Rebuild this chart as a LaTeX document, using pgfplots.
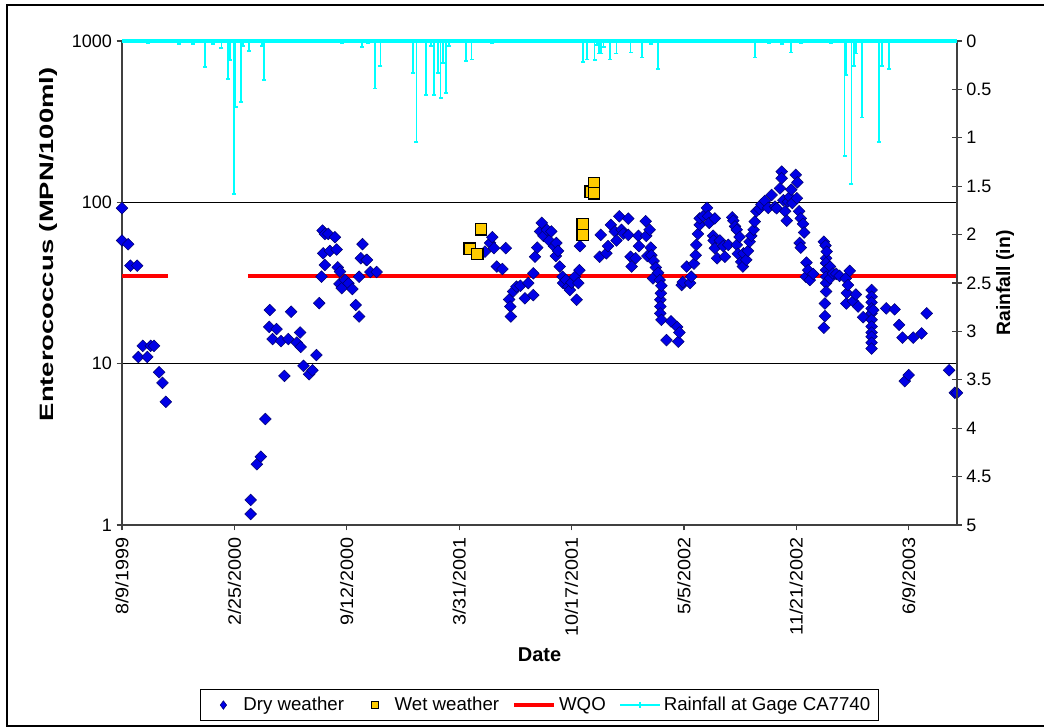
\documentclass[border=0pt]{standalone}
\usepackage{pgfplots}
\pgfplotsset{compat=1.18}
\usepackage{fontspec}
\setmainfont{Liberation Sans}
\usepackage{graphicx}

\definecolor{dryfill}{RGB}{0,0,230}
\definecolor{dryedge}{RGB}{0,0,110}
\definecolor{wetfill}{RGB}{255,204,0}
\definecolor{rain}{RGB}{0,255,255}
\definecolor{axgray}{RGB}{64,64,64}

% Excel draws rotated text wider along the baseline
\newcommand{\sx}[1]{\scalebox{1.1}[1]{#1}}

\pgfplotsset{
  common/.style={
    scale only axis, width=626.25pt, height=363pt,
    xmin=0, xmax=1486,
    axis line style={draw=axgray, line width=1.1pt, -},
    tick style={draw=axgray, line width=0.9pt},
    tick label style={font=\fontsize{13.5}{16}\selectfont},
    /pgf/number format/assume math mode=true,
    clip=false,
  },
  markleg/.style={legend image code/.code={\path[draw=none, fill=none] (0pt,-3pt) rectangle (26pt,3pt);
      \draw[##1] plot coordinates {(13pt,0pt)};}},
  lineleg/.style={legend image code/.code={\draw[##1] (0pt,0pt) -- (30pt,0pt);}},
  rainleg/.style={legend image code/.code={\draw[##1] (0pt,0pt) -- (30pt,0pt);
      \draw[##1, line width=1pt] (15pt,-2pt) -- (15pt,2pt);}},
}

% day 0 = 8/9/1999
\pgfplotstableread{
day val
0 92
0 58
11 55
15 40.5
27 40.5
29 11
37 12.9
45 11
51 12.9
57 12.9
66 8.85
72 7.6
78 5.8
229 1.43
229 1.17
240 2.38
247 2.65
255 4.54
262 16.9
263 21.5
268 14.2
275 16.4
283 13.8
289 8.4
296 14.2
301 21
311 13.5
317 15.6
318 12.7
323 9.7
333 8.6
339 9.1
346 11.3
351 23.7
355 34.6
357 66.8
358 48.3
361 63.7
361 40.9
367 63.7
370 50
379 60.8
382 51
384 39.5
387 31.2
388 37.2
391 29.4
397 33
403 31.5
410 29
416 23.1
422 19.6
422 34.6
425 45
428 55
435 43.9
436 44
442 37
453 37
646 49.5
655 56
659 60.8
662 52
667 40
677 38.6
683 52
689 25
691 22.6
692 19.6
696 28
702 30
709 30.4
717 25.4
723 31.6
732 26.6
732 36.3
735 46
739 52.4
744 66
747 74.5
750 62
756 67.6
760 58
764 66
769 53.5
772 46.5
773 56
776 50
779 40
784 34.6
785 31.6
790 33
794 30
797 28.6
800 31.8
806 34.6
809 24.9
812 31.6
814 38
815 53.5
850 46
852 62.8
862 48.3
865 53.5
870 72.5
877 66
880 58
885 81.9
889 67.6
892 64
901 79.3
901 62.8
905 46
907 40
914 45
919 62
920 53.5
932 76.4
933 62
935 46.5
939 67.6
941 52.4
942 47
945 33.8
946 43.3
950 39.5
954 36.6
957 33
958 24.9
958 22.6
958 20.5
959 27.3
960 30.4
960 18.7
969 14
977 18.3
988 16.9
990 13.7
992 15.6
996 30.7
998 32
1005 40
1011 31.6
1013 34.6
1018 41.7
1021 47
1022 54.5
1025 63.7
1028 72.5
1028 79.5
1034 82
1041 92.4
1043 82
1045 74.5
1052 62
1053 58
1055 79.5
1055 52
1059 45
1064 58
1070 53.5
1073 46
1079 54.5
1086 80.7
1088 77
1091 71
1094 67.6
1094 54.5
1096 48
1099 61
1102 42.8
1105 40
1106 48.3
1111 44
1114 50
1117 57
1120 62
1124 67.6
1126 76
1129 88
1134 91
1138 97
1144 102
1150 92.4
1156 111
1162 94
1165 92
1171 122
1174 155
1174 141
1177 103
1180 88
1183 77
1185 101
1188 108
1191 120
1193 99
1199 148
1201 106
1202 133
1205 88
1206 56
1208 79.5
1208 52.4
1212 73.5
1214 65
1217 34.6
1218 42.3
1221 38
1224 33
1230 36
1249 57
1249 16.7
1251 23.6
1251 19.7
1252 54
1253 45
1253 42
1253 38
1253 34.6
1253 31.6
1253 28
1254 49.5
1260 40
1260 33.8
1265 36.2
1271 36
1277 35
1288 33.8
1289 23.6
1290 27.4
1292 30.7
1295 37.6
1301 24.4
1306 26.8
1310 22.6
1319 19.4
1334 28.6
1334 26
1334 24
1334 22
1334 20.5
1334 18.7
1334 17
1334 15.6
1334 14.7
1334 13.5
1334 12.4
1337 21.5
1360 22
1375 21.7
1383 17.4
1389 14.5
1393 7.8
1400 8.5
1408 14.5
1423 15.4
1432 20.5
1472 9.1
1482 6.6
1486 6.6
}\dry

\pgfplotstableread{
day val
619 51.6
632 47.9
639 68
820 73.5
820 62.8
834 116.5
840 131
840 114
}\wet

\pgfplotstableread{
day rain
46 0.02
101 0.03
126 0.03
148 0.27
162 0.03
177 0.07
189 0.39
192 0.2
199 1.58
202 0.68
212 0.63
215 0.05
226 0.1
249 0.05
253 0.40
391 0.02
427 0.06
438 0.02
450 0.49
460 0.26
518 0.33
524 1.04
541 0.56
550 0.05
555 0.56
562 0.33
567 0.59
571 0.23
576 0.54
582 0.05
612 0.21
622 0.19
659 0.02
820 0.22
828 0.19
841 0.2
845 0.04
849 0.13
853 0.13
857 0.06
868 0.19
880 0.13
905 0.12
926 0.17
942 0.03
954 0.29
1126 0.17
1151 0.02
1175 0.03
1190 0.12
1209 0.02
1261 0.02
1286 1.19
1289 0.35
1298 1.48
1303 0.26
1306 0.13
1317 0.79
1347 1.04
1352 0.26
1365 0.29
}\rain

\begin{document}
\begin{tikzpicture}
\begin{axis}[common, name=main,
  axis x line*=bottom, axis y line*=left,
  ymode=log, ymin=1, ymax=1000,
  ytick={1,10,100,1000}, yticklabels={1,10,100,1000},
  yminorticks=false,
  ymajorgrids, major grid style={black, line width=0.6pt},
  xtick={0,200,...,1400},
  xticklabels={\sx{8/9/1999},\sx{2/25/2000},\sx{9/12/2000},\sx{3/31/2001},\sx{10/17/2001},\sx{5/5/2002},\sx{11/21/2002},\sx{6/9/2003}},
  xticklabel style={rotate=90, anchor=east},
  xticklabel shift=2pt,
  tick align=outside, major tick length=4pt,
  xlabel={Date},
  xlabel style={at={(axis description cs:0.5,-0.2686)}, anchor=center, font=\bfseries\fontsize{15}{18}\selectfont},
  ylabel={\scalebox{1.42}[1]{Enterococcus (MPN/100ml)}},
  ylabel style={at={(axis description cs:-0.0886,0.58)}, anchor=center, font=\bfseries\fontsize{14.5}{17}\selectfont},
  legend columns=4,
  legend style={at={(axis description cs:0.5,-0.372)}, anchor=center, draw=black, line width=0.8pt,
    font=\fontsize{14}{17}\selectfont, inner xsep=4pt, inner ysep=4pt,
    /tikz/every even column/.append style={column sep=8pt}},
]
\addplot[red, line width=3pt, mark=none, forget plot] coordinates {(0,35) (82,35)};
\addplot[red, line width=3pt, mark=none, forget plot] coordinates {(224,35) (1486,35)};
\addplot[only marks, mark=square*, mark size=3.1pt, forget plot,
  mark options={rotate=45, fill=dryfill, draw=dryedge, line width=0.4pt}] table[x=day, y=val] {\dry};
\addplot[only marks, mark=square*, mark size=4.3pt, forget plot,
  mark options={fill=wetfill, draw=black, line width=1pt}] table[x=day, y=val] {\wet};
\addlegendimage{only marks, mark=diamond*, mark size=3.2pt, mark options={fill=dryfill, draw=dryedge, line width=0.4pt}, markleg}
\addlegendimage{only marks, mark=square*, mark size=2.6pt, mark options={fill=wetfill, draw=black, line width=0.8pt}, markleg}
\addlegendimage{red, line width=3pt, lineleg}
\addlegendimage{rain, line width=1.5pt, rainleg}
\legend{Dry weather, Wet weather, WQO, Rainfall at Gage CA7740}
\end{axis}

\begin{axis}[common, at={(main.south west)}, anchor=south west,
  axis x line=none, axis y line*=right,
  ymin=0, ymax=5, y dir=reverse,
  ytick={0,0.5,1,1.5,2,2.5,3,3.5,4,4.5,5},
  yticklabels={0,0.5,1,1.5,2,2.5,3,3.5,4,4.5,5},
  tick align=center, major tick length=7pt,
  ylabel={Rainfall (in)},
  ylabel style={at={(axis description cs:1.0575,0.5)}, anchor=center, font=\bfseries\fontsize{14.5}{17}\selectfont},
]
\addplot[rain, line width=2.5pt, mark=none] coordinates {(0,0) (1486,0)};
\addplot[rain, ycomb, line width=1.3pt, mark=-, mark size=1.5pt] table[x=day, y=rain] {\rain};
\end{axis}

\draw[black, line width=1.1pt] (main.south west) ++(-86.25pt,-150.75pt) rectangle ++(782.25pt,540.75pt);
\pgfresetboundingbox
\path[use as bounding box] (main.south west) ++(-91.5pt,-151.5pt) rectangle ++(783pt,545.25pt);
\end{tikzpicture}
\end{document}
